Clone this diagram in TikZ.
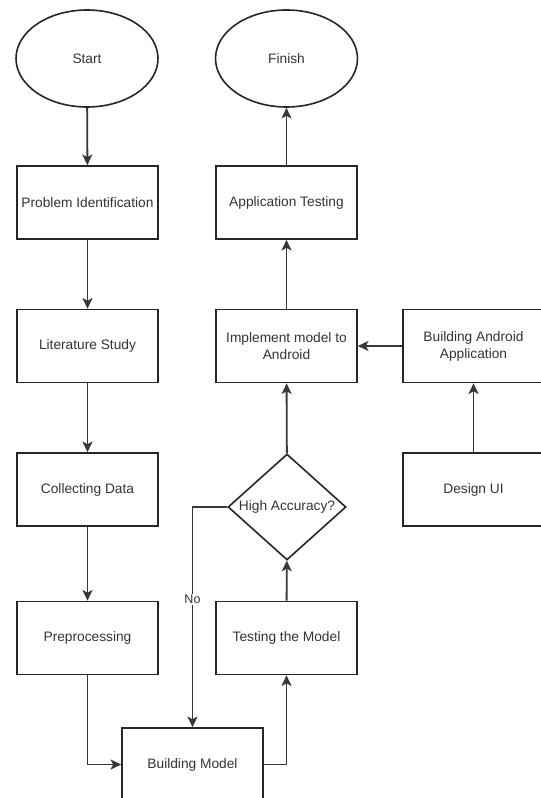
\documentclass[tikz,border=0pt]{standalone}
\usepackage{fontspec}
\setmainfont{Liberation Sans}
\usetikzlibrary{shapes.geometric,arrows.meta}
\begin{document}
\begin{tikzpicture}[x=0.75pt,y=-0.75pt,
  txt/.style={font=\fontsize{10.3}{12.8}\selectfont,text=black!80},
  box/.style={txt,draw=black!85,line width=1.2pt,minimum width=105.75pt,minimum height=54.75pt,inner sep=0pt,align=center},
  term/.style={txt,ellipse,draw=black!85,line width=1.2pt,minimum width=106.5pt,minimum height=72.75pt,inner sep=0pt},
  dec/.style={txt,diamond,draw=black!85,line width=1.2pt,aspect=1.1,minimum width=88.5pt,minimum height=79.5pt,inner sep=0pt},
  conn/.style={draw=black!78,line width=1.4pt,-{Stealth[length=8pt,width=7.5pt,inset=2pt]}},
  lbl/.style={font=\fontsize{9.4}{11}\selectfont,text=black!80,fill=white,inner sep=1pt}]
\useasboundingbox (0,0) rectangle (540,798);
\node[term] (start) at (87,58.5) {Start};
\node[term] (finish) at (286.5,58.5) {Finish};
\node[box] (prob) at (87.5,202.5) {Problem Identification};
\node[box] (apptest) at (286.5,202.5) {Application Testing};
\node[box] (lit) at (87.5,346) {Literature Study};
\node[box] (impl) at (286.5,346) {Implement model to\\Android};
\node[box] (bldand) at (473.5,346) {Building Android\\Application};
\node[box] (coll) at (87.5,489.5) {Collecting Data};
\node[box] (design) at (473.5,489.5) {Design UI};
\node[dec] (acc) at (287,507) {High Accuracy?};
\node[box] (prep) at (87.5,638) {Preprocessing};
\node[box] (test) at (286.5,638) {Testing the Model};
\node[box] (bmodel) at (192.5,764.5) {Building Model};
\draw[conn] (start) -- (prob);
\draw[conn] (prob) -- (lit);
\draw[conn] (lit) -- (coll);
\draw[conn] (coll) -- (prep);
\draw[conn] (prep.south) |- (bmodel.west);
\draw[conn] (bmodel.east) -| (test.south);
\draw[conn] (test) -- (acc);
\draw[conn] (acc) -- (impl);
\draw[conn] (acc.west) -| node[lbl,pos=0.71] {No} (bmodel.north);
\draw[conn] (design) -- (bldand);
\draw[conn] (bldand) -- (impl);
\draw[conn] (impl) -- (apptest);
\draw[conn] (apptest) -- (finish);
\end{tikzpicture}
\end{document}
